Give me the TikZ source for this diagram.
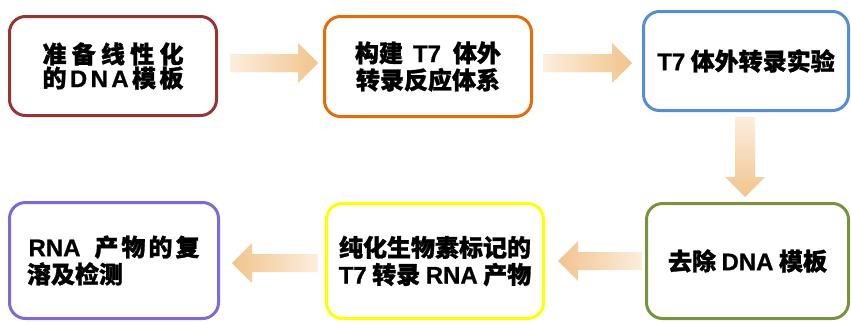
\documentclass[tikz,border=0pt]{standalone}
\usepackage{fontspec}
\setmainfont{Noto Sans CJK SC}[BoldFeatures={FakeBold=1.2}]
\newfontfamily\latf{Liberation Sans}[BoldFeatures={FakeBold=0.8}]
\usetikzlibrary{calc}
\definecolor{cRed}{HTML}{943634}
\definecolor{cOrange}{HTML}{E46C0A}
\definecolor{cBlue}{HTML}{558ED5}
\definecolor{cGreen}{HTML}{77933C}
\definecolor{cYellow}{HTML}{FFFF00}
\definecolor{cPurple}{HTML}{8068D6}
\definecolor{aHead}{HTML}{F1C48C}
\definecolor{aTail}{HTML}{FCEEDE}
\newcommand{\lt}[1]{{\latf\bfseries #1}}
\newcommand{\arrowR}[2]{\shade[left color=aTail, right color=aHead]
  ($(#1)+(0,-9)$) -- ($(#2)+(-20,-9)$) -- ($(#2)+(-20,-20)$) -- (#2) --
  ($(#2)+(-20,20)$) -- ($(#2)+(-20,9)$) -- ($(#1)+(0,9)$) -- cycle;}
\newcommand{\arrowL}[2]{\shade[left color=aHead, right color=aTail]
  ($(#1)+(0,-9)$) -- ($(#2)+(20,-9)$) -- ($(#2)+(20,-20)$) -- (#2) --
  ($(#2)+(20,20)$) -- ($(#2)+(20,9)$) -- ($(#1)+(0,9)$) -- cycle;}
\newcommand{\arrowD}[2]{\shade[top color=aTail, bottom color=aHead]
  ($(#1)+(-10,0)$) -- ($(#2)+(-10,-20)$) -- ($(#2)+(-20,-20)$) -- (#2) --
  ($(#2)+(20,-20)$) -- ($(#2)+(10,-20)$) -- ($(#1)+(10,0)$) -- cycle;}
\begin{document}
\begin{tikzpicture}[x=1pt,y=-1pt,
  box/.style={draw, line width=3pt, rounded corners=16pt, fill=white,
    align=center, inner sep=0pt,
    font=\bfseries\fontsize{24}{27}\selectfont}]
\useasboundingbox (0,0) rectangle (851,322);
\fill[white] (0,0) rectangle (851,322);

\node[box, draw=cRed, minimum width=207pt, minimum height=99pt] (b1) at (113,66)
  {\makebox[141pt][s]{准\hfill 备\hfill 线\hfill 性\hfill 化}\\[-3pt]
   \makebox[141pt][s]{的\hfill\lt{D}\hfill\lt{N}\hfill\lt{A}\hfill 模\hfill 板}};
\node[box, draw=cOrange, minimum width=207pt, minimum height=100pt] (b2) at (428,66.5)
  {构建\hspace{10pt}\lt{T7}\hspace{12pt}体外\\转录反应体系};
\node[box, draw=cBlue, minimum width=205pt, minimum height=99pt] (b3) at (746,61)
  {\lt{T7} 体外转录实验};
\node[box, draw=cGreen, minimum width=202pt, minimum height=115pt] (b4) at (747.5,261)
  {去除 \lt{DNA} 模板};
\node[box, draw=cYellow, minimum width=217pt, minimum height=115pt] (b5) at (435,261)
  {纯化生物素标记的\\\lt{T7} 转录 \lt{RNA} 产物};
\node[box, draw=cPurple, minimum width=209pt, minimum height=116pt] (b6) at (114,260.5)
  {\lt{RNA}\hspace{14pt}产\hspace{3pt}物\hspace{3pt}的\hspace{3pt}复\\溶及检测\hspace{78pt}\mbox{}};

\coordinate (a1s) at ($(b1.east)+(12,-3)$);
\coordinate (a1e) at ($(b2.west |- a1s)+(-5,0)$);
\coordinate (a2s) at ($(b2.east)+(10,-3.5)$);
\coordinate (a2e) at ($(b3.west |- a2s)+(-10,0)$);
\coordinate (a3s) at ($(b3.south)+(-1,5)$);
\coordinate (a3e) at ($(a3s |- b4.north)+(0,-5)$);
\coordinate (a4s) at ($(b4.west)+(-3,0)$);
\coordinate (a4e) at ($(b5.east |- a4s)+(13,0)$);
\coordinate (a5s) at ($(b5.west)+(-7,2)$);
\coordinate (a5e) at ($(b6.east |- a5s)+(12,0)$);

\arrowR{a1s}{a1e}
\arrowR{a2s}{a2e}
\arrowD{a3s}{a3e}
\arrowL{a4s}{a4e}
\arrowL{a5s}{a5e}
\end{tikzpicture}
\end{document}
